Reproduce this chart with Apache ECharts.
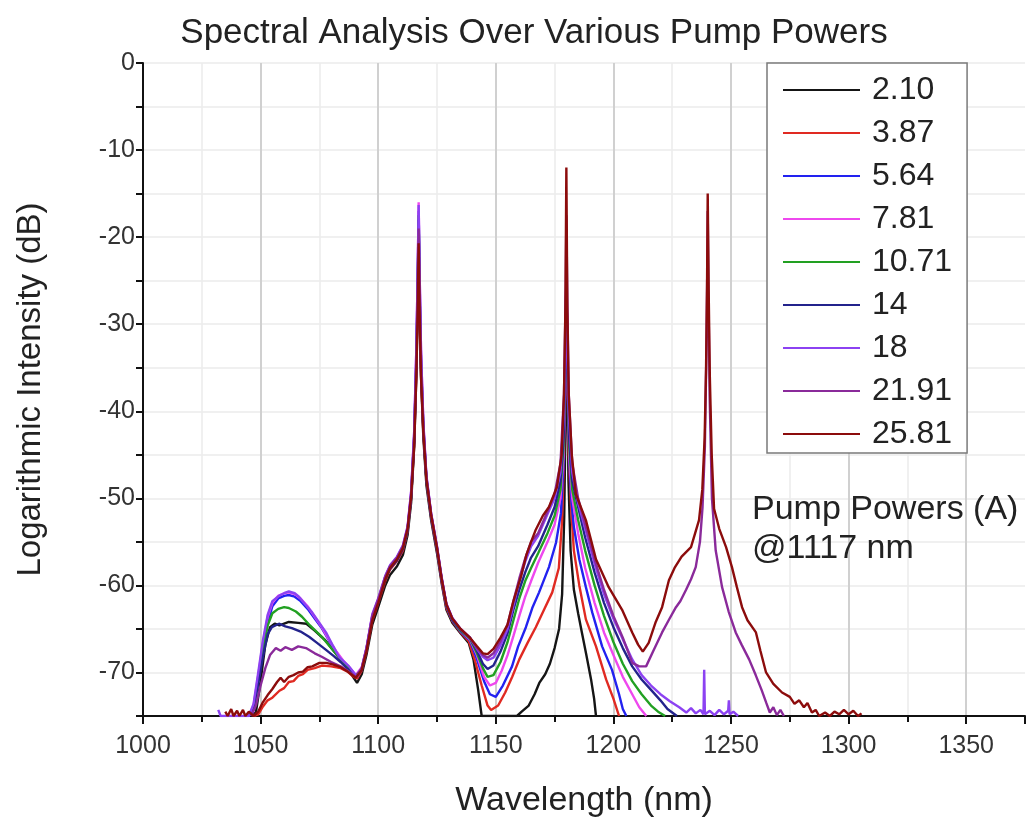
<!DOCTYPE html>
<html>
<head>
<meta charset="utf-8">
<script src="https://cdn.jsdelivr.net/npm/echarts@6/dist/echarts.min.js"></script>
<style>
html,body{margin:0;padding:0;background:#fff;}
#chart{width:1032px;height:823px;}
</style>
</head>
<body>
<div id="chart"></div>
<script>
// ---- Data ----
const seriesNames = ['2.10','3.87','5.64','7.81','10.71','14','18','21.91','25.81'];

const xTicks = [1000,1050,1100,1150,1200,1250,1300,1350];
const yTicks = [0,-10,-20,-30,-40,-50,-60,-70];

const s210 = [[1046,-75],[1048,-74.6],[1050,-71],[1052,-66.8],[1054,-64.8],[1056,-64.4],[1058,-64.6],[1062,-64.2],[1066,-64.3],[1069.5,-64.4],[1073,-65.2],[1077.5,-66.3],[1081,-67.5],[1084,-68.5],[1087,-69.6],[1089,-70.4],[1091,-71.2],[1093,-70.2],[1095,-68],[1097.5,-64.5],[1100,-62.5],[1103,-60],[1105,-58.8],[1108,-57.8],[1110.5,-56.5],[1112.5,-54.2],[1114,-50.5],[1115.3,-44],[1116.2,-36],[1116.8,-28],[1117.2,-20],[1117.6,-28],[1118.2,-36],[1119.2,-43],[1120.5,-48.5],[1122.5,-52.5],[1125,-56.3],[1127,-59.8],[1129,-62.8],[1131.5,-64.3],[1135,-65.5],[1138.5,-66.6],[1140.5,-68.5],[1142.5,-72],[1144,-75],[1159,-75],[1161,-74.5],[1164,-73.8],[1166.5,-72.5],[1168.5,-71.2],[1171,-70.2],[1173,-69],[1175,-67.2],[1176.9,-65],[1178.2,-61],[1179.1,-52],[1179.6,-42],[1179.9,-32],[1180.1,-27],[1180.4,-36],[1180.9,-48],[1181.8,-56],[1183.2,-60.5],[1185,-63.2],[1186.6,-65.4],[1188.5,-68],[1190.5,-70.8],[1191.8,-73],[1192.6,-75]];

const s387 = [[1047,-75],[1049,-74.8],[1051,-73.9],[1053,-73.2],[1055,-72.9],[1058,-72.1],[1060,-71.8],[1062,-71.1],[1064,-71],[1066,-70.4],[1068,-70.2],[1070,-69.7],[1073,-69.5],[1076,-69.2],[1080,-69.3],[1084,-69.5],[1087,-69.9],[1089,-70.4],[1091,-70.7],[1093,-69.8],[1095,-67.6],[1097.5,-64],[1100,-62],[1103,-59.5],[1105,-58.2],[1108,-57.2],[1110.5,-56],[1112.5,-53.8],[1114,-50],[1115.3,-43.5],[1116.2,-35.5],[1116.8,-27],[1117.2,-19.5],[1117.6,-27],[1118.2,-35.5],[1119.2,-42.5],[1120.5,-48],[1122.5,-52.2],[1125,-56],[1127,-59.6],[1129,-62.6],[1131.5,-64.1],[1135,-65.4],[1138.5,-66.4],[1141,-68.5],[1144,-71.5],[1146.5,-73.8],[1148,-74.3],[1151,-73.8],[1154,-72.3],[1157,-70.5],[1160,-68.5],[1163.5,-66.6],[1167,-64.8],[1170.5,-62.8],[1174,-60.8],[1176.8,-58],[1178.2,-52.5],[1179,-45],[1179.6,-35],[1180,-26],[1180.4,-35],[1181,-45],[1182,-51],[1183.2,-56],[1185.5,-60],[1188.3,-63.9],[1192.6,-67],[1196.9,-70.8],[1200,-73],[1202.4,-75]];

const s564 = [[1045,-75],[1047,-74.2],[1049,-71],[1051,-67.5],[1053,-64.3],[1055,-62.4],[1057.5,-61.5],[1060,-61.2],[1062,-61.1],[1064.5,-61.3],[1067,-61.8],[1070,-62.7],[1073,-63.8],[1076,-64.9],[1079,-66.3],[1082,-67.6],[1085,-68.7],[1088,-69.6],[1090.5,-70.4],[1093,-69.6],[1095,-67.3],[1097.5,-63.6],[1100,-61.8],[1103,-59.2],[1105,-58],[1108,-57],[1110.5,-55.7],[1112.5,-53.5],[1114,-49.6],[1115.3,-43],[1116.2,-34],[1116.8,-25],[1117.2,-17],[1117.6,-25],[1118.2,-34],[1119.2,-42],[1120.5,-47.8],[1122.5,-52],[1125,-55.8],[1127,-59.4],[1129,-62.4],[1131.5,-64],[1135,-65.3],[1139,-66.3],[1142,-68.5],[1145,-71],[1147.5,-72.5],[1150,-72.8],[1153,-71.5],[1156.9,-69.3],[1159.5,-67],[1162.8,-64.8],[1165.5,-62.6],[1168.4,-60.8],[1172.6,-57.9],[1175.6,-55.1],[1177.7,-51.7],[1178.8,-46],[1179.5,-36],[1180,-25],[1180.5,-36],[1181.3,-46],[1182.2,-50.5],[1183.2,-53.3],[1185.5,-57],[1188.3,-60.2],[1191,-63.1],[1195.2,-67],[1199.4,-69.7],[1202.4,-72.5],[1204,-74.2],[1205.5,-75]];

const s781 = [[1045,-75],[1047,-73.8],[1049,-70.3],[1051,-66.6],[1053,-63.6],[1055,-62],[1057.5,-61.2],[1060,-60.9],[1062,-60.8],[1064.5,-61],[1067,-61.5],[1070,-62.4],[1073,-63.6],[1076,-64.8],[1079,-66.2],[1082,-67.5],[1085,-68.6],[1088,-69.5],[1090.5,-70.3],[1093,-69.4],[1095,-67.2],[1097.5,-63.4],[1100,-61.6],[1103,-59],[1105,-57.8],[1108,-56.8],[1110.5,-55.5],[1112.5,-53.3],[1114,-49.3],[1115.3,-42.5],[1116.2,-33],[1116.8,-24],[1117.2,-16],[1117.6,-24],[1118.2,-33],[1119.2,-41.5],[1120.5,-47.5],[1122.5,-51.8],[1125,-55.6],[1127,-59.2],[1129,-62.2],[1131.5,-63.8],[1135,-65.2],[1139,-66.2],[1142,-68],[1145,-70.5],[1147.5,-71.5],[1150,-71.2],[1152.5,-69.8],[1155,-68],[1157.5,-65.8],[1160,-63.5],[1162.5,-61.3],[1165,-59.5],[1168,-57.4],[1172,-55],[1175,-53],[1177.5,-50],[1178.8,-45],[1179.5,-35],[1180,-24],[1180.5,-35],[1181.2,-45],[1182.5,-50],[1185,-54],[1188,-58],[1192,-62],[1196,-65.4],[1200,-68],[1204,-70.5],[1208,-72.5],[1211,-74],[1214,-75]];

const s1071 = [[1045,-75],[1047,-74],[1049,-70.8],[1051,-67.4],[1053,-64.6],[1055,-63.2],[1057.5,-62.7],[1060,-62.5],[1062,-62.6],[1065,-63],[1067.6,-63.6],[1071,-64.6],[1076,-65.9],[1080,-67.2],[1083.5,-68.3],[1087,-69.4],[1090.5,-70.4],[1093,-69.6],[1095,-67.4],[1097.5,-63.7],[1100,-61.8],[1103,-59.3],[1105,-58],[1108,-57],[1110.5,-55.7],[1112.5,-53.6],[1114,-49.8],[1115.3,-43],[1116.2,-34.5],[1116.8,-26],[1117.2,-17.5],[1117.6,-26],[1118.2,-34.5],[1119.2,-42],[1120.5,-47.8],[1122.5,-52],[1125,-55.8],[1127,-59.3],[1129,-62.3],[1131.5,-63.9],[1135,-65.2],[1139,-66.1],[1142,-67.8],[1144.5,-69.5],[1146.5,-70.5],[1149,-70.3],[1152,-68.8],[1155,-66.5],[1157.5,-64],[1160,-61.5],[1162.5,-59.5],[1165,-58],[1168,-56.3],[1172,-54],[1175,-52],[1177.5,-49],[1178.8,-44],[1179.5,-35],[1180,-25],[1180.5,-35],[1181.2,-44],[1182.5,-49],[1185,-52.5],[1188,-56],[1192,-60],[1196,-63.5],[1200,-66.5],[1204,-69],[1208,-71],[1212,-72.5],[1216,-73.8],[1219,-74.5],[1222,-75]];

const s14 = [[1045,-75],[1047,-74.1],[1049,-71.2],[1051,-68.2],[1053,-65.6],[1054.8,-64.8],[1057.8,-64.4],[1060.5,-64.7],[1063.3,-64.9],[1067,-65.3],[1070.6,-65.9],[1074,-66.6],[1077.8,-67.4],[1081,-68.1],[1084,-68.8],[1087,-69.6],[1090.5,-70.5],[1093,-69.7],[1095,-67.5],[1097.5,-63.8],[1100,-61.9],[1103,-59.3],[1105,-58.1],[1108,-57.1],[1110.5,-55.8],[1112.5,-53.7],[1114,-50],[1115.3,-43.5],[1116.2,-35],[1116.8,-26.5],[1117.2,-18],[1117.6,-26.5],[1118.2,-35],[1119.2,-42.2],[1120.5,-47.9],[1122.5,-52.1],[1125,-55.9],[1127,-59.4],[1129,-62.3],[1131.5,-63.9],[1135,-65.1],[1139,-66],[1142,-67.5],[1144.5,-69],[1146.5,-69.6],[1149,-69.2],[1152,-67.6],[1155,-65.5],[1157.5,-62.8],[1160,-60.5],[1162.5,-58.5],[1165,-56.8],[1168,-55.5],[1172,-53],[1175,-51],[1177.5,-48],[1178.8,-43],[1179.5,-35],[1180,-24.5],[1180.5,-35],[1181.2,-43],[1182.5,-48],[1185,-51],[1188,-54.5],[1192,-58.5],[1196,-62],[1200,-64.8],[1204,-67.2],[1208,-69.3],[1212,-70.8],[1216,-72],[1220,-73.2],[1223,-74.2],[1227,-75]];

const s18 = [[1032,-74.3],[1033,-75],[1045,-75],[1047,-73.6],[1049,-70],[1051,-66.3],[1053,-63.4],[1055,-61.8],[1057.8,-61.2],[1060,-60.9],[1062,-60.7],[1064.5,-60.9],[1066.3,-61.3],[1069,-62.2],[1071.9,-63.1],[1075,-64.3],[1077.8,-65.4],[1080.5,-66.8],[1083.3,-68.2],[1087.6,-69.3],[1091,-70.5],[1093,-69.5],[1095,-67.2],[1097.5,-63.3],[1100,-61.5],[1103,-58.9],[1105,-57.7],[1108,-56.7],[1110.5,-55.4],[1112.5,-53.2],[1114,-49.2],[1115.3,-42.3],[1116.2,-33],[1116.8,-24],[1117.2,-16.3],[1117.6,-24],[1118.2,-33],[1119.2,-41.3],[1120.5,-47.4],[1122.5,-51.7],[1125,-55.5],[1127,-59.1],[1129,-62.1],[1131.5,-63.7],[1135,-65],[1139,-66],[1142,-67.3],[1144.5,-68.2],[1146.5,-68.6],[1149,-68.3],[1152,-66.9],[1155,-65],[1157.5,-62.3],[1160,-59.5],[1162.5,-57.3],[1165,-55.5],[1168,-54.3],[1172,-51.8],[1175,-50],[1177.5,-47],[1179,-40],[1179.7,-31],[1180,-24],[1180.3,-31],[1181,-40],[1182.5,-47],[1185,-50.5],[1188,-53.5],[1192,-57.5],[1196,-61],[1200,-63.8],[1204,-66.2],[1208,-68.5],[1212,-70.3],[1216,-71.5],[1220,-72.5],[1224,-73.3],[1228,-74],[1231,-74.6],[1233,-74.1],[1235,-74.7],[1237,-74.3],[1238.3,-74.8],[1238.6,-69.7],[1238.9,-74.8],[1241,-74.4],[1243,-74.9],[1245,-74.3],[1247,-74.8],[1248.8,-74.4],[1249.1,-73.2],[1249.4,-74.8],[1251,-74.5],[1253,-75]];

const s2191 = [[1046,-75],[1048,-73.8],[1050,-71.5],[1052,-69.5],[1054,-68],[1056.5,-67.2],[1058.5,-67.5],[1060.5,-67.1],[1063.3,-67.4],[1066,-67],[1069.3,-67.2],[1073,-67.8],[1076,-68.2],[1080,-68.8],[1084,-69.3],[1087.5,-69.9],[1090.5,-70.5],[1093,-69.5],[1095,-67.3],[1097.5,-63.5],[1100,-61.6],[1103,-59],[1105,-57.8],[1108,-56.8],[1110.5,-55.5],[1112.5,-53.4],[1114,-49.6],[1115.3,-43],[1116.2,-34.5],[1116.8,-26.5],[1117.2,-19],[1117.6,-26.5],[1118.2,-34.5],[1119.2,-41.8],[1120.5,-47.6],[1122.5,-51.8],[1125,-55.6],[1127,-59.2],[1129,-62.2],[1131.5,-63.8],[1135,-65],[1139,-66],[1142,-67.2],[1144.5,-68],[1146.5,-68.3],[1149,-67.8],[1152,-66.4],[1155,-64.5],[1157.5,-61.8],[1160,-59.2],[1162.5,-56.9],[1165,-55],[1168,-54],[1172,-51.5],[1175,-49.5],[1177.5,-46],[1179,-38],[1179.7,-27],[1180,-17.5],[1180.4,-27],[1181,-38],[1182.5,-46],[1185,-50],[1188,-53],[1192,-57],[1196,-60.5],[1200,-63.5],[1204,-66],[1208,-68.9],[1211,-69.3],[1213.9,-69.3],[1217,-67.5],[1220.7,-65.4],[1223.5,-64],[1226.6,-62.5],[1228.5,-61.8],[1230.9,-60.5],[1233,-59.3],[1235,-57.9],[1236.8,-55],[1237.9,-51],[1238.9,-44],[1239.5,-34],[1239.9,-24],[1240.1,-17],[1240.4,-26],[1240.9,-38],[1241.9,-50],[1243.5,-56],[1246.2,-60.2],[1249,-63],[1252,-65.4],[1254.5,-66.8],[1257.7,-68.5],[1260.5,-70.3],[1263,-72],[1265,-73.5],[1266.5,-74.6],[1268,-74],[1269.5,-74.9],[1271,-74.3],[1272.5,-75]];

const s2581 = [[1035,-74.5],[1036,-75],[1037.5,-74.2],[1038.5,-75],[1040,-74.4],[1041,-75],[1042.5,-74.3],[1043.5,-75],[1045,-74.5],[1047,-75],[1049,-74.5],[1051,-73.4],[1053,-72.6],[1055,-71.9],[1057,-71.1],[1058.5,-70.6],[1060,-71.1],[1062,-70.5],[1064,-70.3],[1066,-70],[1068,-69.9],[1070,-69.4],[1072,-69.3],[1075,-68.9],[1078,-68.9],[1081,-69.1],[1084,-69.4],[1087,-69.9],[1090.5,-70.6],[1093,-69.7],[1095,-67.6],[1097.5,-64],[1100,-62],[1103,-59.3],[1105,-58],[1108,-57],[1110.5,-55.7],[1112.5,-53.5],[1114,-49.8],[1115.3,-44],[1116.2,-36],[1116.8,-28.5],[1117.2,-20.7],[1117.6,-28.5],[1118.2,-36],[1119.2,-42.5],[1120.5,-47.8],[1122.5,-51.9],[1125,-55.7],[1127,-59.3],[1129,-62.2],[1131.5,-63.8],[1135,-65],[1139,-66],[1142,-67],[1144.5,-67.8],[1146.5,-67.9],[1149,-67.3],[1152,-66],[1155,-64.5],[1157.5,-61.8],[1160.7,-59],[1163,-56.5],[1165,-55],[1167,-53.6],[1170,-52],[1172.6,-51],[1176,-48.7],[1178,-45],[1179,-38],[1179.6,-28],[1180,-12],[1180.4,-28],[1181,-38],[1182.3,-45],[1184,-49.5],[1188.3,-52.5],[1192.6,-57],[1198,-60.2],[1203.7,-62.8],[1208,-65.4],[1210.5,-66.8],[1212.5,-67.6],[1215,-66.6],[1218,-64.2],[1220.7,-62.5],[1223.6,-59.4],[1226,-58],[1229,-56.7],[1233,-55.6],[1236.4,-52.5],[1237.8,-49],[1238.8,-43],[1239.4,-35],[1239.8,-26],[1240.1,-15],[1240.5,-26],[1241,-36],[1241.8,-45],[1242.8,-51.2],[1245,-53.5],[1247.9,-55.6],[1250.4,-57.9],[1252.5,-60.2],[1254.7,-62.5],[1257,-64],[1260.6,-65.4],[1262.5,-67.5],[1264.9,-70],[1268,-71.3],[1271.7,-72.3],[1275,-72.8],[1277,-73.6],[1279,-73.2],[1281,-74],[1282.5,-73.5],[1284.4,-74.6],[1286,-74.3],[1287.5,-75],[1290,-74.6],[1292,-75],[1294,-74.5],[1296,-74.8],[1298,-74.3],[1300,-74.8],[1302,-74.4],[1304,-75],[1305.5,-74.7]];

const seriesData = [s210, s387, s564, s781, s1071, s14, s18, s2191, s2581];

// ---- Styles ----
const seriesColors = ['#151515','#e02a22','#2222f0','#ee48ee','#22a022','#23238c','#8c42f2','#8a2a9a','#8c0c0c'];
const FONT = "'Liberation Sans', Arial, sans-serif";

const chart = echarts.init(document.getElementById('chart'), null, {renderer:'canvas'});

const option = {
  animation: false,
  backgroundColor: '#ffffff',
  textStyle: {fontFamily: FONT},
  title: {
    text: 'Spectral Analysis Over Various Pump Powers',
    left: 529, top: 11, textAlign: 'center',
    textStyle: {fontFamily: FONT, fontSize: 35, fontWeight: 'normal', color: '#222'}
  },
  grid: {left: 143, right: 7, top: 63, bottom: 107, containLabel: false},
  legend: {
    orient: 'vertical', left: 767, top: 63,
    icon: 'path://M0,0L77,0L77,2L0,2Z M84,0L84,2',
    itemWidth: 84, itemHeight: 2, itemGap: 11,
    padding: [11, 15, 3, 16],
    borderColor: '#7a7a7a', borderWidth: 1.5, backgroundColor: '#fff',
    textStyle: {fontFamily: FONT, fontSize: 32, color: '#222', lineHeight: 32},
    data: seriesNames
  },
  xAxis: {
    type: 'value', min: 1000, max: 1375, interval: 50,
    name: 'Wavelength (nm)', nameLocation: 'middle', nameGap: 68,
    nameTextStyle: {fontFamily: FONT, fontSize: 34, color: '#222'},
    axisLine: {show: true, onZero: false, lineStyle: {color: '#111', width: 2}},
    axisTick: {show: true, length: 8, lineStyle: {color: '#111', width: 2}},
    minorTick: {show: true, splitNumber: 2, length: 6, lineStyle: {color: '#111', width: 2}},
    axisLabel: {fontFamily: FONT, fontSize: 25, color: '#333', margin: 18, showMaxLabel: false,
      formatter: v => xTicks.includes(v) ? String(v) : ''},
    splitLine: {show: true, showMaxLine: false, lineStyle: {color: '#d0d0d0', width: 2}},
    minorSplitLine: {show: true, lineStyle: {color: '#ececec', width: 1.5}}
  },
  yAxis: {
    type: 'value', min: -75, max: 0, interval: 5,
    name: 'Logarithmic Intensity (dB)', nameLocation: 'middle', nameGap: 96,
    nameTextStyle: {fontFamily: FONT, fontSize: 33, color: '#222'},
    axisLine: {show: true, onZero: false, lineStyle: {color: '#111', width: 2}},
    axisTick: {show: true, length: 7, lineStyle: {color: '#111', width: 2}},
    axisLabel: {fontFamily: FONT, fontSize: 25, color: '#333', margin: 8,
      formatter: v => yTicks.includes(v) ? String(v) : ''},
    splitLine: {show: true, showMinLine: false, lineStyle: {color: '#ebebeb', width: 1.5}}
  },
  graphic: [
    {type: 'text', left: 752, top: 493, z: 100, style: {text: 'Pump Powers (A)', font: "34px 'Liberation Sans', Arial, sans-serif", fill: '#222'}},
    {type: 'text', left: 752, top: 532, z: 100, style: {text: '@1117 nm', font: "34px 'Liberation Sans', Arial, sans-serif", fill: '#222'}}
  ],
  series: seriesNames.map((n, i) => ({
    name: n, type: 'line', data: seriesData[i],
    showSymbol: false, symbol: 'none', smooth: false, clip: true,
    color: seriesColors[i],
    lineStyle: {color: seriesColors[i], width: 2.4},
    emphasis: {disabled: true}
  }))
};
chart.setOption(option);
</script>
</body>
</html>
